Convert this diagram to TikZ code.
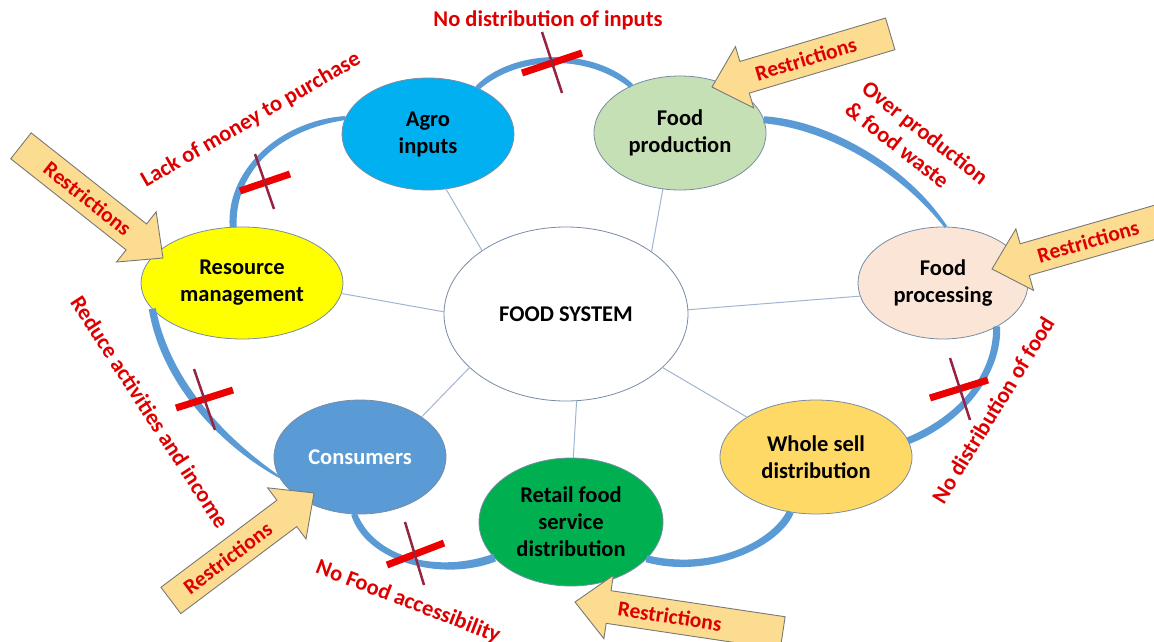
\documentclass[tikz,border=0pt]{standalone}
\usepackage{fontspec}
\setmainfont{Carlito}
\usetikzlibrary{shapes.geometric,calc}

\definecolor{agrocol}{RGB}{0,176,240}
\definecolor{prodcol}{RGB}{197,224,180}
\definecolor{proccol}{RGB}{251,229,214}
\definecolor{rescol}{RGB}{255,255,0}
\definecolor{conscol}{RGB}{91,155,213}
\definecolor{retailcol}{RGB}{0,176,80}
\definecolor{wholecol}{RGB}{255,217,102}
\definecolor{rimcol}{RGB}{120,140,165}
\definecolor{spokecol}{RGB}{160,182,208}
\definecolor{flowcol}{RGB}{91,155,213}
\definecolor{alertcol}{RGB}{222,0,0}
\definecolor{barcol}{RGB}{236,0,0}
\definecolor{slashcol}{RGB}{150,36,64}
\definecolor{restrfill}{RGB}{252,220,145}
\definecolor{restredge}{RGB}{120,120,120}

% block arrow: tip, direction of the tail, total length, text angle, text distance from tip
\newcommand\restrarrow[5]{%
  \begin{scope}[shift={#1}, rotate=#2]
    \draw[restr] (0,0) -- (34,-32) -- (34,-16.5) -- (#3,-16.5) -- (#3,16.5)
      -- (34,16.5) -- (34,32) -- cycle;
    \node[restrtext, rotate=#4] at (#5,0) {Restrictions};
  \end{scope}}

% tapered band along a cubic curve:
% start, control 1, control 2, end, half width at start, at controls, at end
\newcommand\flowband[7]{%
  \fill[flowcol]
    ($#1!#5pt!90:#2$) .. controls ($#2!#6pt!-90:#1$) and ($#3!#6pt!90:#4$)
      .. ($#4!#7pt!-90:#3$)
    -- ($#4!#7pt!90:#3$) .. controls ($#3!#6pt!-90:#4$) and ($#2!#6pt!90:#1$)
      .. ($#1!#5pt!-90:#2$) -- cycle;}

\begin{document}
\begin{tikzpicture}[x=1pt, y=-1pt,
  bigfont/.style={font=\fontsize{22.5}{27}\selectfont\bfseries},
  stage/.style={ellipse, draw=rimcol, line width=0.8pt, inner sep=0pt,
    outer sep=0pt, align=center, bigfont},
  spoke/.style={draw=spokecol, line width=1pt},
  note/.style={text=alertcol, bigfont, inner sep=0pt},
  xbar/.style={draw=barcol, line width=7pt},
  xslash/.style={draw=slashcol, line width=2.5pt},
  restr/.style={fill=restrfill, draw=restredge, line width=0.9pt, line join=miter},
  restrtext/.style={text=alertcol, font=\fontsize{21.5}{26}\selectfont\bfseries, inner sep=0pt}]

\useasboundingbox (0,0) rectangle (1154,642);
\clip (0,0) rectangle (1154,642);

% hub and the seven stages
\node[stage, fill=white, minimum width=244pt, minimum height=174pt] (fs) at (566,314) {FOOD SYSTEM};
\node[stage, fill=agrocol, minimum width=172pt, minimum height=112pt] (agro) at (428,134) {Agro\\inputs};
\node[stage, fill=prodcol, minimum width=172pt, minimum height=114pt] (prod) at (680,133) {Food\\production};
\node[stage, fill=proccol, minimum width=170pt, minimum height=112pt] (proc) at (943,283) {Food\\processing};
\node[stage, fill=wholecol, minimum width=192pt, minimum height=114pt] (whole) at (816,457) {Whole sell\\distribution};
\node[stage, fill=retailcol, minimum width=184pt, minimum height=128pt] (retail) at (571,522) {Retail food\\service\\distribution};
\node[stage, fill=conscol, text=white, minimum width=172pt, minimum height=114pt] (cons) at (360,457) {Consumers};
\node[stage, fill=rescol, minimum width=202pt, minimum height=112pt] (res) at (242,283) {Resource\\management};

% spokes from the hub
\draw[spoke] (fs.143) -- (agro.-72);
\draw[spoke] (fs.36) -- (prod.-107.5);
\draw[spoke] (fs.2) -- (proc.189);
\draw[spoke] (fs.-29) -- (whole.150);
\draw[spoke] (fs.-83) -- (retail.88);
\draw[spoke] (fs.209) -- (cons.33);
\draw[spoke] (fs.179.5) -- (res.-6.7);

% flows round the cycle
\flowband{(res.99.6)}{(230,170)}{(280,125)}{(agro.169)}{3.5}{4.4}{2}
\flowband{(agro.43.9)}{(515,52)}{(590,50)}{(prod.136)}{2.5}{4.5}{2.5}
\flowband{(prod.9.8)}{(830,125)}{(905,170)}{(proc.87)}{3.5}{4.5}{1.5}
\flowband{(proc.-39.5)}{(998,375)}{(960,420)}{(whole.10.5)}{3.5}{4.2}{3.5}
\flowband{(whole.-115.7)}{(775,545)}{(710,575)}{(retail.-26)}{3.5}{4.8}{3.5}
\flowband{(retail.205.7)}{(440,578)}{(370,560)}{(cons.-96.8)}{4}{4.8}{3}
\flowband{(cons.194.2)}{(220,440)}{(165,380)}{(res.196.9)}{1}{4.6}{3.5}

% broken links
\draw[xbar] (240,191) -- (290,174);  \draw[xslash] (255,154) -- (274,209);
\draw[xbar] (522,73) -- (582,53);    \draw[xslash] (542,32) -- (562,93);
\draw[xbar] (930,398) -- (988,380);  \draw[xslash] (950,358) -- (970,420);
\draw[xbar] (387,565) -- (444,543);  \draw[xslash] (405,522) -- (424,585);
\draw[xbar] (176,408) -- (233,390);  \draw[xslash] (194,369) -- (215,430);

% restrictions
\restrarrow{(712,87)}{16.6}{186}{16.6}{98}
\restrarrow{(992,269)}{16}{215}{16}{100}
\restrarrow{(163,258)}{141.7}{181}{-38.3}{96}
\restrarrow{(314,493)}{216.9}{179}{36.9}{108}
\restrarrow{(575,602)}{-8.5}{210}{-8.5}{96}

% problem labels
\node[note] (n1) at (548,20) {No distribution of inputs};
\node[note, rotate=30] (n2) at (251,120) {Lack of money to purchase};
\node[note, rotate=-38, align=left] (n3) at (917,143) {Over production\\\& food waste};
\node[note, rotate=58.5] (n4) at (993,410) {No distribution of food};
\node[note, rotate=-57] (n5) at (150,412) {Reduce activities and income};
\node[note, rotate=-21] (n6) at (408,602) {No Food accessibility};

\end{tikzpicture}
\end{document}
